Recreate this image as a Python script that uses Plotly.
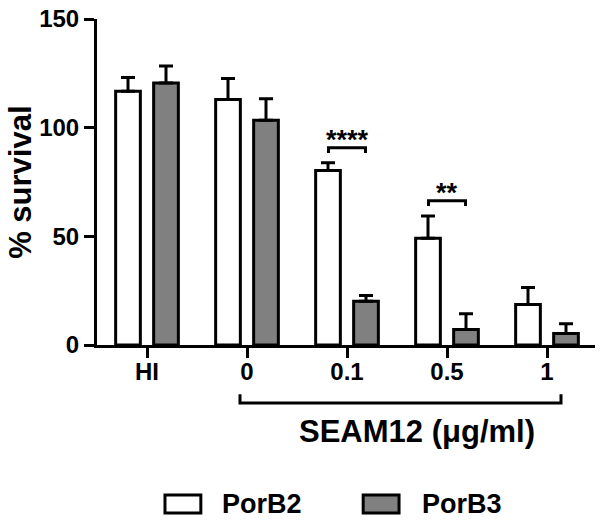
import plotly.graph_objects as go

categories = ["HI", "0", "0.1", "0.5", "1"]
porb2_mean = [116.8, 113.0, 80.3, 49.1, 18.6]
porb2_err = [6.3, 9.6, 3.5, 10.3, 7.8]
porb3_mean = [120.5, 103.4, 20.1, 7.1, 5.3]
porb3_err = [7.9, 9.9, 2.7, 7.3, 4.5]
y_ticks = [0, 50, 100, 150]
series_names = ["PorB2", "PorB3"]
sig_groups = [2, 3]
sig_labels = ["****", "**"]

FONT = "Liberation Sans, Arial, sans-serif"
GRAY = "#808080"

fig = go.Figure()
fig.add_trace(go.Bar(
    x=categories, y=porb2_mean, name=series_names[0],
    marker=dict(color="white", line=dict(color="black", width=3)),
    error_y=dict(type="data", symmetric=False, array=porb2_err,
                 arrayminus=[0] * len(porb2_err), color="black",
                 thickness=3, width=7),
    showlegend=False,
))
fig.add_trace(go.Bar(
    x=categories, y=porb3_mean, name=series_names[1],
    marker=dict(color=GRAY, line=dict(color="black", width=3)),
    error_y=dict(type="data", symmetric=False, array=porb3_err,
                 arrayminus=[0] * len(porb3_err), color="black",
                 thickness=3, width=7),
    showlegend=False,
))

shapes = []
annotations = []
half = 0.185
for g, lab in zip(sig_groups, sig_labels):
    top = max(porb2_mean[g] + porb2_err[g], porb3_mean[g] + porb3_err[g])
    yb = top + 7
    shapes.append(dict(type="path", xref="x", yref="y",
                       path=f"M {g-half},{yb-2.5} L {g-half},{yb} L {g+half},{yb} L {g+half},{yb-2.5}",
                       line=dict(color="black", width=3)))
    annotations.append(dict(x=g, y=yb + 3.6, xref="x", yref="y", text=f"<b>{lab}</b>",
                            showarrow=False, yanchor="middle", xanchor="center",
                            font=dict(family=FONT, size=27, color="black")))

# SEAM12 bracket below the axis
shapes.append(dict(type="path", xref="x", yref="paper",
                   path="M 0.93,-0.151 L 0.93,-0.178 L 4.14,-0.178 L 4.14,-0.151",
                   line=dict(color="black", width=3)))
annotations.append(dict(x=2.7, y=-0.205, xref="x", yref="paper",
                        text="<b>SEAM12 (μg/ml)</b>", showarrow=False,
                        xanchor="center", yanchor="top",
                        font=dict(family=FONT, size=31, color="black")))

# Y title
annotations.append(dict(x=-0.155, y=0.5, xref="paper", yref="paper",
                        text="<b>% survival</b>", textangle=-90, showarrow=False,
                        xanchor="center", yanchor="middle",
                        font=dict(family=FONT, size=31, color="black")))

# Manual legend
leg_y0, leg_y1 = -0.515, -0.46
fills = ["white", GRAY]
box_x = [0.1365, 0.5345]
text_x = [0.2475, 0.6485]
for name, fill, bx, tx in zip(series_names, fills, box_x, text_x):
    shapes.append(dict(type="rect", xref="paper", yref="paper",
                       x0=bx, x1=bx + 0.072, y0=leg_y0, y1=leg_y1,
                       fillcolor=fill, line=dict(color="black", width=3)))
    annotations.append(dict(x=tx, y=(leg_y0 + leg_y1) / 2, xref="paper", yref="paper",
                            text=f"<b>{name}</b>", showarrow=False, xanchor="left",
                            yanchor="middle",
                            font=dict(family=FONT, size=27, color="black")))

fig.update_layout(
    width=600, height=521,
    margin=dict(l=97, r=5, t=14, b=176),
    paper_bgcolor="white", plot_bgcolor="white",
    barmode="group", bargap=0.24, bargroupgap=0.35,
    shapes=shapes, annotations=annotations,
    font=dict(family=FONT, color="black"),
    xaxis=dict(type="category", range=[-0.5, 4.48], showline=True, linecolor="black",
               linewidth=3, ticks="outside", ticklen=10, tickwidth=3, tickcolor="black",
               tickfont=dict(family=FONT, size=24, color="black"),
               tickvals=categories, ticktext=[f"<b>{c}</b>" for c in categories],
               ticklabelstandoff=-7,
               showgrid=False, zeroline=False),
    yaxis=dict(range=[0, 150], showline=True, linecolor="black", linewidth=3,
               ticks="outside", ticklen=10, tickwidth=3, tickcolor="black",
               tickvals=y_ticks, ticktext=[f"<b>{t}</b>" for t in y_ticks],
               tickfont=dict(family=FONT, size=24, color="black"),
               showgrid=False, zeroline=False),
)

fig.write_html("out.html", config={"displayModeBar": False},
               post_script="document.body.style.margin='0';")
